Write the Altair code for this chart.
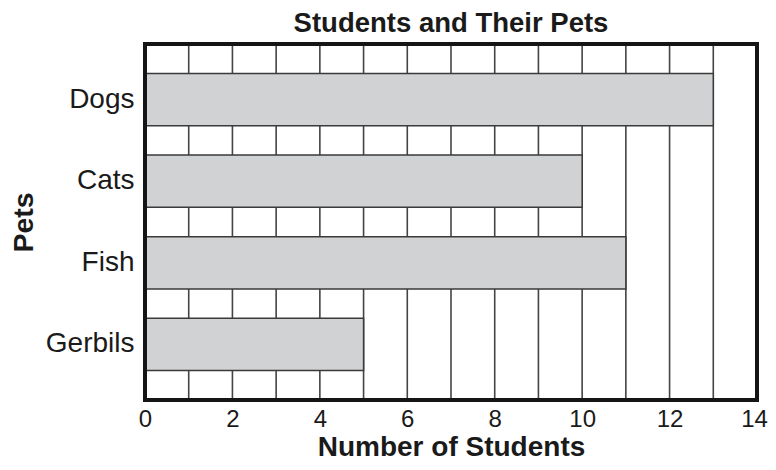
import altair as alt
import pandas as pd

pets = ["Dogs", "Cats", "Fish", "Gerbils"]
students = [13, 10, 11, 5]
x_ticks = [0, 2, 4, 6, 8, 10, 12, 14]
grid_values = list(range(0, 15))

df = pd.DataFrame({"Pets": pets, "Students": students})

FONT = "Liberation Sans"
W, H = 612, 356
TXT = "#1a1a1a"

x_scale = alt.Scale(domain=[0, 14], nice=False, zero=True)
y_scale = alt.Scale(domain=pets, paddingInner=0.36, paddingOuter=0.36)

bars = alt.Chart(df).mark_bar(
    fill="#d1d2d4", stroke="#3a3a3a", strokeWidth=1.5
).encode(
    x=alt.X("Students:Q", scale=x_scale,
            axis=alt.Axis(values=x_ticks, title="Number of Students",
                          grid=False, ticks=False, domain=False, labelPadding=7,
                          labelFlush=False, labelOverlap=False, labelBound=False,
                          labelOffset=alt.ExprRef(expr="datum.value == 14 ? -3 : 0"),
                          labelFontSize=24, titleFontSize=28, titleFontWeight="bold",
                          titlePadding=2, labelColor=TXT, titleColor=TXT)),
    y=alt.Y("Pets:N", scale=y_scale, sort=pets,
            axis=alt.Axis(title="Pets", ticks=False, domain=False, grid=False,
                          labelPadding=11, labelFontSize=28, titleFontSize=28.5,
                          titleFontWeight="bold", titlePadding=7,
                          labelColor=TXT, titleColor=TXT)),
)

grid = alt.Chart(pd.DataFrame({"g": grid_values})).mark_rule(
    color="#444", strokeWidth=1.6
).encode(
    x=alt.X("g:Q", scale=x_scale),
    y=alt.value(0), y2=alt.value(H),
)

frame = alt.Chart(pd.DataFrame({"a": [0], "b": [14]})).mark_rect(
    fill=None, fillOpacity=0, stroke="#151515", strokeWidth=4
).encode(
    x=alt.X("a:Q", scale=x_scale),
    x2="b:Q",
    y=alt.value(0), y2=alt.value(H),
)

chart = alt.layer(grid, bars, frame).properties(
    width=W, height=H,
    title=alt.TitleParams("Students and Their Pets", fontSize=27.5, fontWeight="bold",
                          font=FONT, color=TXT, offset=5),
    autosize=alt.AutoSizeParams(type="none"),
    padding={"left": 137, "top": 36, "right": 11, "bottom": 62},
).configure(font=FONT).configure_view(stroke=None).configure_axis(
    labelFont=FONT, titleFont=FONT
)

chart.save("out.html", embed_options={"renderer": "svg", "actions": False})
